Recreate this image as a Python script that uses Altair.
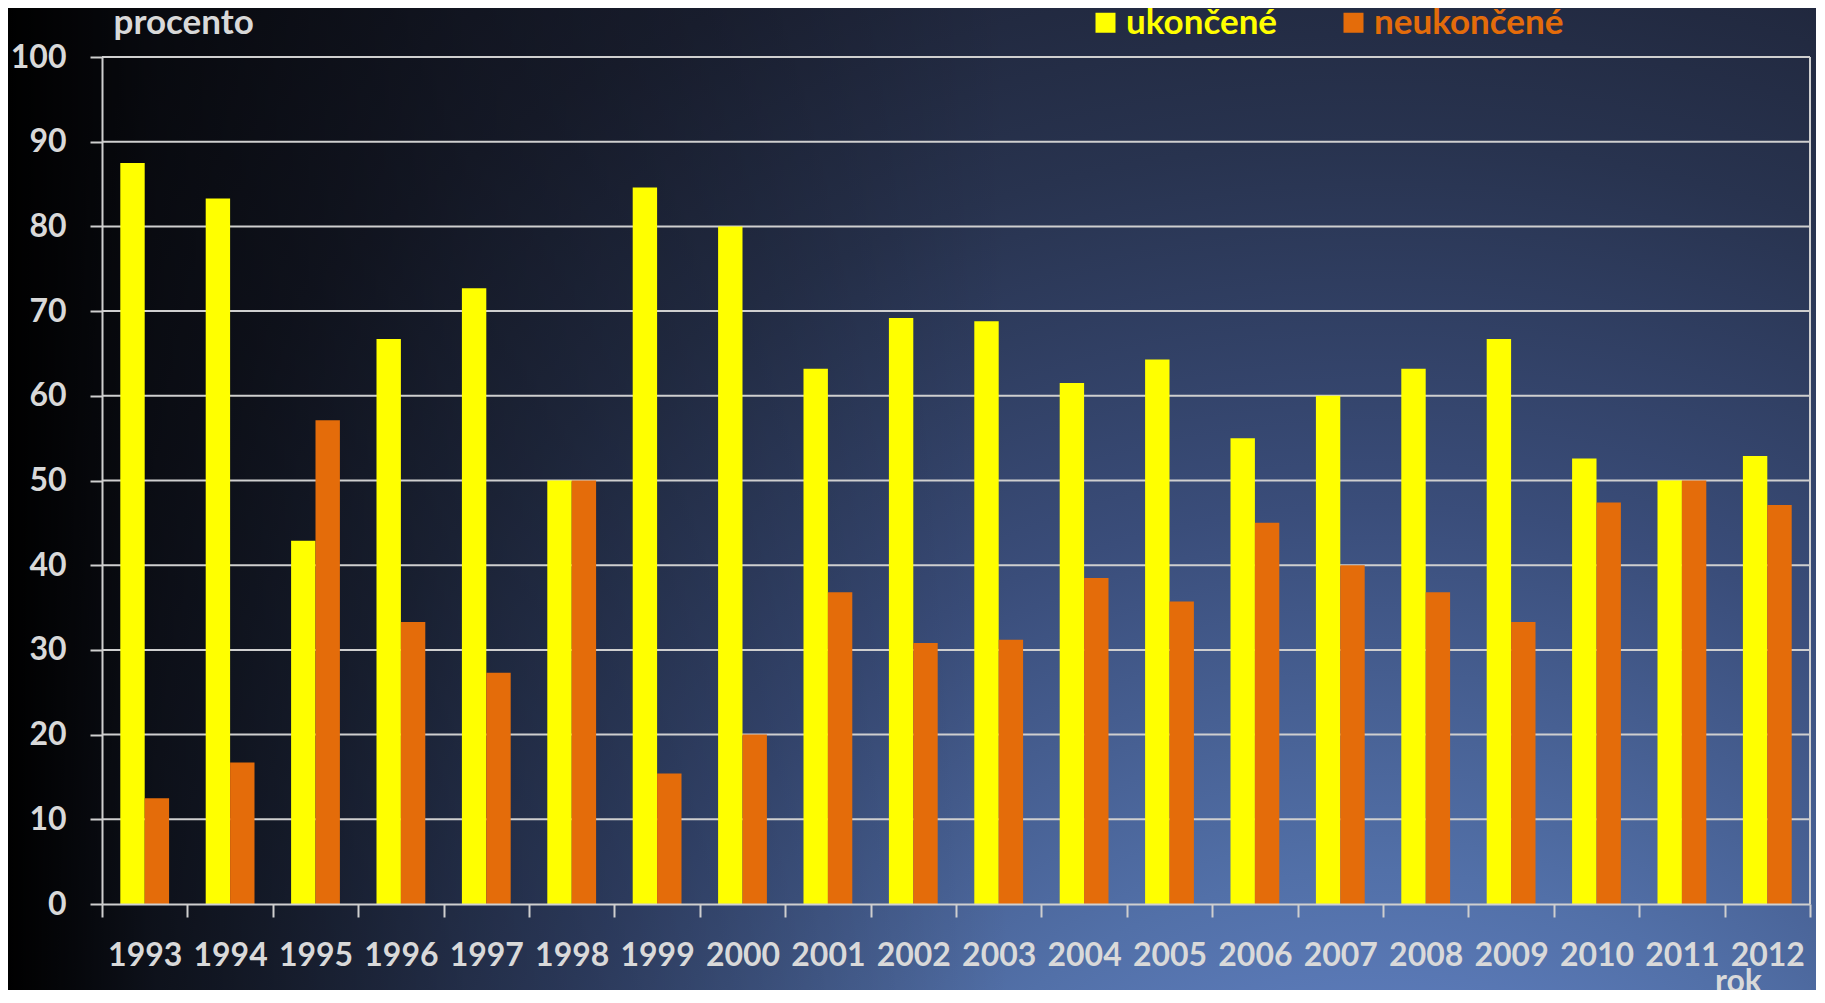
import altair as alt
import pandas as pd

years = ["1993", "1994", "1995", "1996", "1997", "1998", "1999", "2000", "2001", "2002",
         "2003", "2004", "2005", "2006", "2007", "2008", "2009", "2010", "2011", "2012"]
ukoncene = [87.5, 83.3, 42.9, 66.7, 72.7, 50.0, 84.6, 80.0, 63.2, 69.2,
            68.8, 61.5, 64.3, 55.0, 60.0, 63.2, 66.7, 52.6, 50.0, 52.9]
neukoncene = [12.5, 16.7, 57.1, 33.3, 27.3, 50.0, 15.4, 20.0, 36.8, 30.8,
              31.2, 38.5, 35.7, 45.0, 40.0, 36.8, 33.3, 47.4, 50.0, 47.1]
series = ["ukončené", "neukončené"]
series_colors = ["#ffff00", "#e46c0a"]
y_ticks = [0, 10, 20, 30, 40, 50, 60, 70, 80, 90, 100]
grid_values = [10, 20, 30, 40, 50, 60, 70, 80, 90, 100]

rows = []
for yr, a, b in zip(years, ukoncene, neukoncene):
    rows.append({"rok": yr, "serie": series[0], "procento": a})
    rows.append({"rok": yr, "serie": series[1], "procento": b})
df = pd.DataFrame(rows)
grid_df = pd.DataFrame({"procento": grid_values})
one = pd.DataFrame({"k": [0]})

W, H = 1708, 847
TXT = "#d9d9d9"
LINE = "#cfcfcf"
FONT = "Lato"

yscale = alt.Scale(domain=[0, 100], nice=False)

radial = {
    "gradient": "radial",
    "x1": 0.75, "y1": 1.0, "r1": 0.0,
    "x2": 0.75, "y2": 1.0, "r2": 1.0,
    "stops": [
        {"offset": 0.0, "color": "#6e8fd8"},
        {"offset": 0.15, "color": "#6383c6"},
        {"offset": 0.3, "color": "#5270a8"},
        {"offset": 0.5, "color": "#3a4d7a"},
        {"offset": 0.7, "color": "#28334f"},
        {"offset": 0.85, "color": "#1e2438"},
        {"offset": 1.0, "color": "#171b2a"},
    ],
}
shade = {
    "gradient": "linear",
    "x1": 0, "y1": 0, "x2": 1, "y2": 0,
    "stops": [
        {"offset": 0.0, "color": "rgba(0,0,0,1)"},
        {"offset": 0.08, "color": "rgba(0,0,0,0.65)"},
        {"offset": 0.25, "color": "rgba(0,0,0,0.35)"},
        {"offset": 0.55, "color": "rgba(0,0,0,0)"},
        {"offset": 1.0, "color": "rgba(0,0,0,0)"},
    ],
}

bg = alt.Chart(one).mark_rect(fill=radial, strokeWidth=0).encode(
    x=alt.value(-94), x2=alt.value(W + 20), y=alt.value(-49), y2=alt.value(H + 100)
)
bg_shade = alt.Chart(one).mark_rect(fill=shade, strokeWidth=0).encode(
    x=alt.value(-94), x2=alt.value(W + 20), y=alt.value(-49), y2=alt.value(H + 100)
)

grid = alt.Chart(grid_df).mark_rule(color=LINE, strokeWidth=2).encode(
    y=alt.Y("procento:Q", scale=yscale, title="procento")
)
border = alt.Chart(one).mark_rule(color=LINE, strokeWidth=2).encode(
    x=alt.value(W), y=alt.value(0), y2=alt.value(H)
)

bars = alt.Chart(df).mark_bar().encode(
    x=alt.X(
        "rok:N",
        sort=years,
        scale=alt.Scale(paddingInner=0, paddingOuter=0),
        title="rok",
        axis=alt.Axis(
            tickBand="extent",
            labelAngle=0,
            labelFont=FONT, labelFontSize=32, labelFontWeight="bold", labelColor=TXT,
            labelPadding=23,
            tickColor=LINE, tickSize=13, tickWidth=2,
            domainColor=LINE, domainWidth=2,
            grid=False,
            titleFont=FONT, titleFontSize=32, titleFontWeight="bold", titleColor=TXT,
            titleX=1636, titleY=77, titleAlign="center", titleBaseline="middle",
            zindex=1,
        ),
    ),
    xOffset=alt.XOffset(
        "serie:N",
        sort=series,
        scale=alt.Scale(domain=series, paddingInner=0, paddingOuter=0.75),
    ),
    y=alt.Y(
        "procento:Q",
        scale=yscale,
        title="procento",
        axis=alt.Axis(
            values=y_ticks,
            grid=False,
            labelFont=FONT, labelFontSize=32, labelFontWeight="bold", labelColor=TXT,
            labelPadding=24,
            tickColor=LINE, tickSize=12, tickWidth=2,
            domainColor=LINE, domainWidth=2,
            titleFont=FONT, titleFontSize=35, titleFontWeight="bold", titleColor=TXT,
            titleAngle=0, titleX=11, titleY=-35, titleAlign="left", titleBaseline="middle",
            zindex=1,
        ),
    ),
    color=alt.Color(
        "serie:N",
        sort=series,
        scale=alt.Scale(domain=series, range=series_colors),
        legend=alt.Legend(
            orient="none", legendX=986, legendY=-52, direction="horizontal",
            title=None,
            symbolType="square", symbolSize=400, symbolStrokeWidth=0, symbolOpacity=1,
            labelFont=FONT, labelFontSize=35, labelFontWeight="bold",
            labelColor=alt.ExprRef(expr="datum.label == 'ukončené' ? '#ffff00' : '#e46c0a'"),
            labelOffset=3, columnPadding=58, labelLimit=400, padding=0,
        ),
    ),
)

chart = alt.layer(bg, bg_shade, grid, border, bars).properties(
    width=W,
    height=H,
    padding={"left": 94, "top": 49, "right": 6, "bottom": 86},
    autosize=alt.AutoSizeParams(type="none"),
    background="#151a28",
).configure_view(stroke=None)

chart.save("out.html", embed_options={"renderer": "svg", "actions": False})
